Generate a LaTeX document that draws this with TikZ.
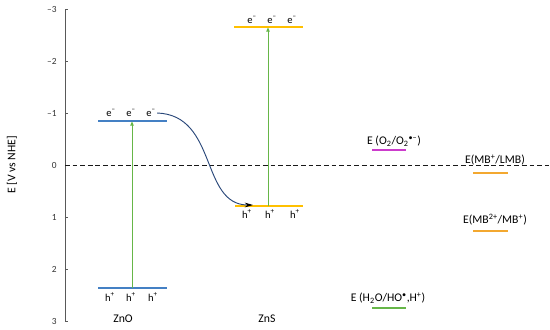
\documentclass[tikz,border=0pt]{standalone}
\usepackage{fontspec}
\setmainfont{Carlito}
\usetikzlibrary{arrows.meta}
\definecolor{levelblue}{RGB}{68,128,196}
\definecolor{levelyellow}{RGB}{255,192,0}
\definecolor{mborange}{RGB}{243,168,48}
\definecolor{pairmagenta}{RGB}{204,60,204}
\definecolor{excitegreen}{RGB}{102,182,72}
\definecolor{curvenavy}{RGB}{42,72,122}

\begin{document}
\begin{tikzpicture}[
    x=0.03cm, y=-0.03cm,
    axisline/.style={
      draw=gray!70!black,
      line width=0.8pt
    },
    ticklabel/.style={
      font=\footnotesize,
      text=black!80,
      inner sep=1pt,
      anchor=east
    },
    level/.style={
      line width=1.2pt
    },
    carrier/.style={
      font=\small,
      inner sep=1pt
    },
    excite/.style={
      -{Triangle[length=3.5pt, width=3pt]},
      line width=0.65pt,
      excitegreen
    },
    transfer/.style={
      -{Stealth[length=7pt, width=4pt, black]},
      line width=0.8pt,
      curvenavy
    },
    redox/.style={
      font=\normalsize,
      inner sep=1pt
    }
  ]
    \useasboundingbox (0,0) rectangle (550,330);

    % Axis
    \coordinate (axisTop) at (65,9);
    \coordinate (axisBot) at (65,321);
    \draw[axisline] (axisTop) -- (axisBot);
    \foreach \e/\lab in {-3/\textendash3, -2/\textendash2, -1/\textendash1, 0/0, 1/1, 2/2, 3/3} {
      \draw[axisline] (65,{165+52*\e}) -- (68,{165+52*\e});
      \node[ticklabel] (tick\e) at (58,{165+52*\e}) {\lab};
    }
    \node[rotate=90] (axislabel) at (12,165) {E [V vs NHE]};

    % Zero line
    \coordinate (zeroL) at (65,165);
    \coordinate (zeroR) at (550,165);
    \draw[gray!20!black, dash pattern=on 4pt off 2.5pt, line width=0.7pt] (zeroL) -- (zeroR);

    % ZnO
    \coordinate (znoCBl) at (98,121);
    \coordinate (znoCBr) at (167,121);
    \coordinate (znoVBl) at (98,288);
    \coordinate (znoVBr) at (167,288);
    \draw[level, levelblue] (znoCBl) -- (znoCBr);
    \draw[level, levelblue] (znoVBl) -- (znoVBr);
    \node[carrier] (znoE1) at (111,113) {e\textsuperscript{\textendash}};
    \node[carrier] (znoE2) at (131,113) {e\textsuperscript{\textendash}};
    \node[carrier] (znoE3) at (151,113) {e\textsuperscript{\textendash}};
    \node[carrier] (znoH1) at (110,297) {h\textsuperscript{+}};
    \node[carrier] (znoH2) at (131,297) {h\textsuperscript{+}};
    \node[carrier] (znoH3) at (153,297) {h\textsuperscript{+}};
    \coordinate (znoExB) at (132,288);
    \coordinate (znoExT) at (132,121.5);
    \draw[excite] (znoExB) -- (znoExT);
    \node (zno) at (123,319) {ZnO};

    % ZnS
    \coordinate (znsCBl) at (234,27);
    \coordinate (znsCBr) at (303,27);
    \coordinate (znsVBl) at (235,206);
    \coordinate (znsVBr) at (303,206);
    \draw[level, levelyellow] (znsCBl) -- (znsCBr);
    \draw[level, levelyellow] (znsVBl) -- (znsVBr);
    \node[carrier] (znsE1) at (252,20) {e\textsuperscript{\textendash}};
    \node[carrier] (znsE2) at (272,20) {e\textsuperscript{\textendash}};
    \node[carrier] (znsE3) at (292,20) {e\textsuperscript{\textendash}};
    \node[carrier] (znsH1) at (247,214) {h\textsuperscript{+}};
    \node[carrier] (znsH2) at (270,214) {h\textsuperscript{+}};
    \node[carrier] (znsH3) at (295,214) {h\textsuperscript{+}};
    \coordinate (znsExB) at (268,206);
    \coordinate (znsExT) at (268,27.5);
    \draw[excite] (znsExB) -- (znsExT);
    \node (zns) at (267,319) {ZnS};

    % Electron transfer
    \coordinate (znsArrive) at (253,205);
    \draw[transfer] (znoE3.east) .. controls (218,115) and (200,205) .. (znsArrive);

    % Redox potentials
    \node[redox] (o2) at (394,141) {E (O\textsubscript{2}/O\textsubscript{2}\textsuperscript{\textbullet\textendash})};
    \coordinate (o2L) at (372,150);
    \coordinate (o2R) at (406,150);
    \draw[level, pairmagenta] (o2L) -- (o2R);

    \node[redox] (mblmb) at (495,160) {E(MB\textsuperscript{+}/LMB)};
    \coordinate (mblmbL) at (473,173);
    \coordinate (mblmbR) at (508,173);
    \draw[level, mborange] (mblmbL) -- (mblmbR);

    \node[redox] (mbmb) at (495,220) {E(MB\textsuperscript{2+}/MB\textsuperscript{+})};
    \coordinate (mbmbL) at (473,231);
    \coordinate (mbmbR) at (508,231);
    \draw[level, mborange] (mbmbL) -- (mbmbR);

    \node[redox] (h2o) at (388,298) {E (H\textsubscript{2}O/HO\textsuperscript{\textbullet},H\textsuperscript{+})};
    \coordinate (h2oL) at (372,308);
    \coordinate (h2oR) at (406,308);
    \draw[level, excitegreen] (h2oL) -- (h2oR);

  \end{tikzpicture}
\end{document}
